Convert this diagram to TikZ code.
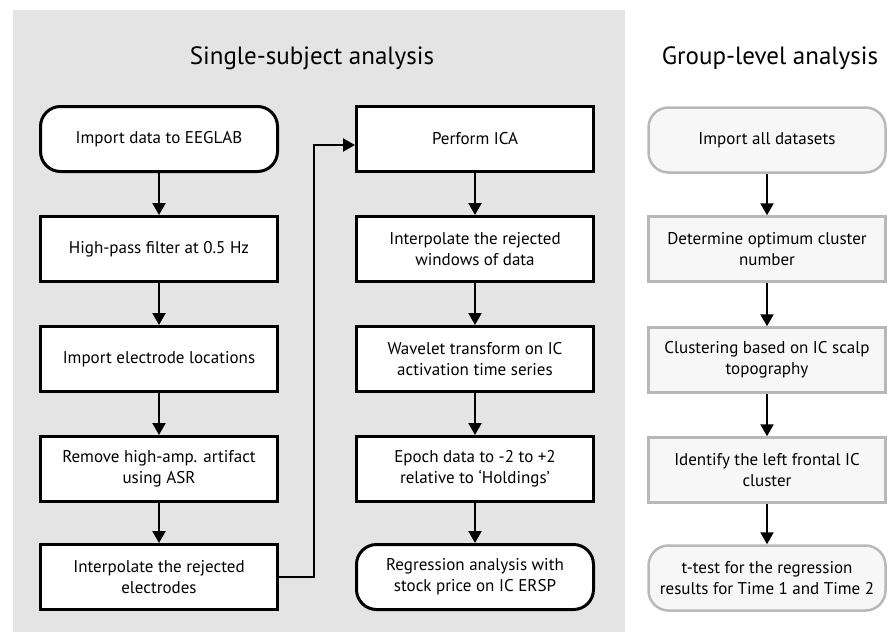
\documentclass[tikz,border=0pt]{standalone}
\usepackage{fontspec}
\setmainfont{PT Sans}
\usetikzlibrary{arrows.meta}
\definecolor{panelgray}{HTML}{E4E4E4}
\definecolor{groupedge}{HTML}{B8B8B8}
\definecolor{groupfill}{HTML}{F7F7F7}
\begin{document}
\begin{tikzpicture}[x=1pt,y=-1pt,
	>={Triangle[width=13pt,length=12pt]},
	flow line/.style={line width=2.2pt},
	title node/.style={font=\fontsize{25}{29}\selectfont},
	stage box/.style={draw=black, line width=3pt, fill=white, minimum width=237pt,
		minimum height=65pt, inner xsep=1pt, align=center,
		font=\fontsize{17}{21}\selectfont},
	end box/.style={stage box, rounded corners=20pt},
	group box/.style={stage box, draw=groupedge, fill=groupfill, line width=2.5pt},
	group end/.style={group box, rounded corners=20pt}
	]
	\useasboundingbox (0,0) rectangle (888,632);
	\fill[panelgray] (13,10) rectangle (625,632);
	
	\node[title node] (T1) at (312,58) {Single-subject analysis};
	\node[title node] (T2) at (770,58) {Group-level analysis};
	
	% single subject, first column
	\node[end box]   (L1) at (159,139) {Import data to EEGLAB};
	\node[stage box] (L2) at (159,249) {High-pass filter at 0.5 Hz};
	\node[stage box] (L3) at (159,359) {Import electrode locations};
	\node[stage box] (L4) at (159,469) {Remove high-amp. artifact\\using ASR};
	\node[stage box] (L5) at (159,577) {Interpolate the rejected\\electrodes};
	
	% single subject, second column
	\node[stage box] (M1) at (475,139) {Perform ICA};
	\node[stage box] (M2) at (475,249) {Interpolate the rejected\\windows of data};
	\node[stage box] (M3) at (475,359) {Wavelet transform on IC\\activation time series};
	\node[stage box] (M4) at (475,469) {Epoch data to -2 to +2\\relative to ‘Holdings’};
	\node[end box]   (M5) at (475,577) {Regression analysis with\\stock price on IC ERSP};
	
	% group level
	\node[group end] (R1) at (767,140) {Import all datasets};
	\node[group box] (R2) at (767,249) {Determine optimum cluster\\number};
	\node[group box] (R3) at (767,360) {Clustering based on IC scalp\\topography};
	\node[group box] (R4) at (767,470) {Identify the left frontal IC\\cluster};
	\node[group end] (R5) at (767,578) {t-test for the regression\\results for Time 1 and Time 2};
	
	\foreach \col in {L,M,R}
		\foreach \a/\b in {1/2,2/3,3/4,4/5}
			\draw[flow line,->] (\col\a) -- (\col\b);
	\draw[flow line,->] (L5.east) -- ++(35,0) |- ([yshift=-6pt]M1.west);
\end{tikzpicture}
\end{document}
